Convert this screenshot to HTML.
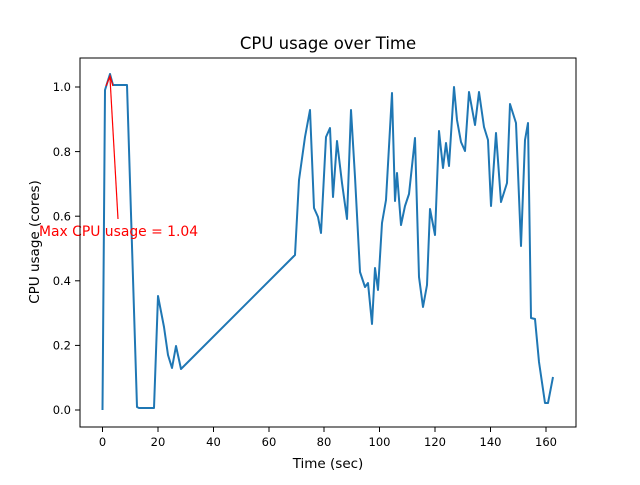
<!DOCTYPE html><html><head><style>body{margin:0;background:#fff}svg{font-family:"DejaVu Sans","Liberation Sans",sans-serif}</style></head><body>
<svg width="640" height="480" viewBox="0 0 640 480" xmlns="http://www.w3.org/2000/svg">
<rect width="640" height="480" fill="#fff"/>
<polyline fill="none" stroke="#1f77b4" stroke-width="2" stroke-linejoin="round" points="102.5,410 105,90 110,74 113,85 127,85 137,407 139,408 154,408 158,296 164,327 168,355 172,368 176,346 181,369 295,255 299,180 305,137 310,110 314,208 318,217 321,233 326,137 330,128 333,197 337,141 342,183 347,219 351,110 355,177 360,272 365,287 368,283 372,324 375,268 378,290 382,223 386,200 392,93 395,201 397,173 401,225 405,206 409,194 415,138 419,277 423,307 427,285 430,209 435,235 439,131 443,168 446,143 449,166 454,87 457,120 461,142 465,151 469,92 475,125 479,92 484,127 488,140 491,206 496,133 501,202 507,183 510,104 516,123 521,246 525,140 528,123 531,318 535,319 539,362 545,403 548,403 553,377"/>
<line x1="118" y1="219" x2="110" y2="78" stroke="red" stroke-width="1.2"/>
<polyline points="106,86 110,76 113,86" fill="none" stroke="red" stroke-width="1.2"/>
<text x="39" y="236" font-size="13.9" fill="red">Max CPU usage = 1.04</text>
<rect x="80" y="58" width="496" height="369" fill="none" stroke="#000" stroke-width="1"/>
<g stroke="#000" stroke-width="1">
<line x1="102.5" y1="427" x2="102.5" y2="432"/><line x1="158" y1="427" x2="158" y2="432"/><line x1="213.5" y1="427" x2="213.5" y2="432"/><line x1="269" y1="427" x2="269" y2="432"/><line x1="324" y1="427" x2="324" y2="432"/><line x1="379.5" y1="427" x2="379.5" y2="432"/><line x1="435" y1="427" x2="435" y2="432"/><line x1="490.5" y1="427" x2="490.5" y2="432"/><line x1="546" y1="427" x2="546" y2="432"/>
<line x1="75" y1="410" x2="80" y2="410"/><line x1="75" y1="345.4" x2="80" y2="345.4"/><line x1="75" y1="280.8" x2="80" y2="280.8"/><line x1="75" y1="216.2" x2="80" y2="216.2"/><line x1="75" y1="151.6" x2="80" y2="151.6"/><line x1="75" y1="87" x2="80" y2="87"/>
</g>
<g font-size="11.5" text-anchor="middle">
<text x="102.5" y="446">0</text><text x="158" y="446">20</text><text x="213.5" y="446">40</text><text x="269" y="446">60</text><text x="324" y="446">80</text><text x="379.5" y="446">100</text><text x="435" y="446">120</text><text x="490.5" y="446">140</text><text x="546" y="446">160</text>
</g>
<g font-size="11.5" text-anchor="end">
<text x="71" y="414">0.0</text><text x="71" y="349.5">0.2</text><text x="71" y="285">0.4</text><text x="71" y="220.5">0.6</text><text x="71" y="156">0.8</text><text x="71" y="91">1.0</text>
</g>
<text x="328" y="468" font-size="13.5" text-anchor="middle">Time (sec)</text>
<text transform="translate(39,242) rotate(-90)" font-size="13.5" text-anchor="middle">CPU usage (cores)</text>
<text x="328" y="49" font-size="16.5" text-anchor="middle">CPU usage over Time</text>
</svg></body></html>
